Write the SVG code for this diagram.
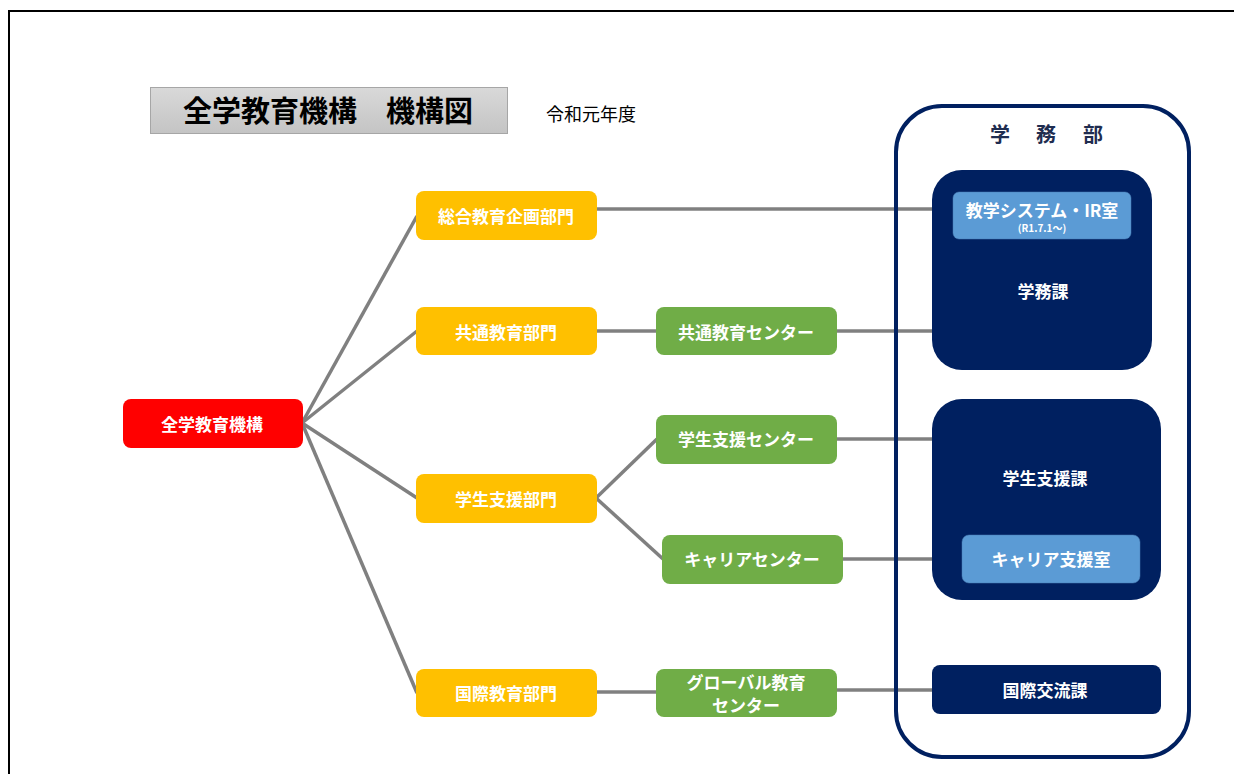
<svg xmlns="http://www.w3.org/2000/svg" width="1234" height="774" viewBox="0 0 1234 774">
<defs>
<linearGradient id="tg" x1="0" y1="0" x2="0" y2="1"><stop offset="0" stop-color="#d9d9d9"/><stop offset="1" stop-color="#c4c4c4"/></linearGradient>
<style>
text{font-family:"Noto Sans CJK JP","Noto Sans CJK SC",sans-serif;text-anchor:middle;dominant-baseline:central}
.w{fill:#fff;font-weight:bold;font-size:17px}
.y{fill:#ffc000}
.g{fill:#70ad47}
.n{fill:#002060}
.b{fill:#5b9bd5;stroke:#4a7fb5;stroke-width:0.5}
.c line{stroke:#808080;stroke-width:3.5}
.h{font-size:20px;font-weight:bold;fill:#1f2d50}
</style>
</defs>
<rect width="1234" height="774" fill="#fff"/>
<path d="M9,774 V11 H1234" fill="none" stroke="#000" stroke-width="2"/>
<g id="title">
<rect x="150.5" y="87.5" width="357" height="46" fill="url(#tg)" stroke="#a6a6a6"/>
<text x="328" y="109" font-size="29" font-weight="bold" fill="#000">全学教育機構　機構図</text>
</g>
<text x="591" y="113" font-size="18" fill="#000">令和元年度</text>
<g class="c" id="connectors">
<line x1="302" y1="423" x2="417" y2="216"/>
<line x1="302" y1="423" x2="417" y2="331"/>
<line x1="302" y1="423" x2="417" y2="498"/>
<line x1="302" y1="423" x2="417" y2="693"/>
<line x1="596" y1="209" x2="954" y2="209"/>
<line x1="596" y1="331" x2="657" y2="331"/>
<line x1="836" y1="331" x2="933" y2="331"/>
<line x1="596" y1="498" x2="657" y2="439"/>
<line x1="596" y1="498" x2="663" y2="559"/>
<line x1="836" y1="439" x2="933" y2="439"/>
<line x1="842" y1="559" x2="963" y2="559"/>
<line x1="596" y1="692" x2="657" y2="692"/>
<line x1="836" y1="690" x2="933" y2="690"/>
</g>
<g id="gakumubu">
<rect x="896" y="106" width="293" height="651" rx="46" fill="none" stroke="#002060" stroke-width="4"/>
<text class="h" x="1000" y="133">学</text>
<text class="h" x="1046" y="133">務</text>
<text class="h" x="1093" y="133">部</text>
</g>
<g id="gakumuka">
<rect class="n" x="932" y="170" width="220" height="200" rx="30"/>
<text class="w" x="1043" y="290">学務課</text>
</g>
<g id="ir">
<rect class="b" x="953" y="192" width="178" height="47" rx="6"/>
<text class="w" x="1042" y="209" font-size="16">教学システム・IR室</text>
<text x="1042" y="227" font-size="10" font-weight="bold" fill="#fff">(R1.7.1～)</text>
</g>
<g id="gakuseishienka">
<rect class="n" x="932" y="399" width="229" height="201" rx="30"/>
<text class="w" x="1045" y="477">学生支援課</text>
</g>
<g id="career-room">
<rect class="b" x="962" y="535" width="178" height="48" rx="7"/>
<text class="w" x="1051" y="558">キャリア支援室</text>
</g>
<g id="kokusaika">
<rect class="n" x="932" y="665" width="229" height="49" rx="8"/>
<text class="w" x="1045" y="689">国際交流課</text>
</g>
<g id="root">
<rect x="123" y="399" width="180" height="49" rx="8" fill="#ff0000"/>
<text class="w" x="212" y="423">全学教育機構</text>
</g>
<g id="sogo">
<rect class="y" x="416" y="191" width="181" height="49" rx="8"/>
<text class="w" x="506" y="215">総合教育企画部門</text>
</g>
<g id="kyotsu">
<rect class="y" x="416" y="307" width="181" height="48" rx="8"/>
<text class="w" x="506" y="331">共通教育部門</text>
</g>
<g id="gakusei">
<rect class="y" x="416" y="474" width="181" height="49" rx="8"/>
<text class="w" x="506" y="498">学生支援部門</text>
</g>
<g id="kokusai">
<rect class="y" x="416" y="669" width="181" height="48" rx="8"/>
<text class="w" x="506" y="692">国際教育部門</text>
</g>
<g id="kyotsu-center">
<rect class="g" x="656" y="307" width="181" height="48" rx="8"/>
<text class="w" x="746" y="331">共通教育センター</text>
</g>
<g id="gakusei-center">
<rect class="g" x="656" y="415" width="181" height="49" rx="8"/>
<text class="w" x="746" y="438">学生支援センター</text>
</g>
<g id="career-center">
<rect class="g" x="662" y="535" width="181" height="49" rx="8"/>
<text class="w" x="752" y="558">キャリアセンター</text>
</g>
<g id="global-center">
<rect class="g" x="656" y="669" width="181" height="48" rx="8"/>
<text class="w" x="746" y="681" font-size="16">グローバル教育</text>
<text class="w" x="746" y="704" font-size="16">センター</text>
</g>
</svg>
